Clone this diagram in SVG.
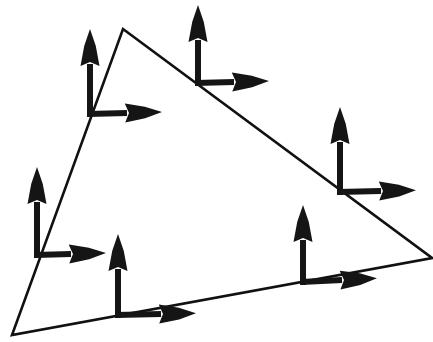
<svg xmlns="http://www.w3.org/2000/svg" width="433" height="342" viewBox="0 0 433 342">
<style>
.edge{fill:none;stroke:#111;stroke-width:2.6;stroke-linejoin:miter}
.ax{stroke:#151515;stroke-width:6;fill:none;marker-end:url(#head)}
</style>
<defs>
<marker id="head" markerUnits="userSpaceOnUse" markerWidth="38" markerHeight="20" refX="2" refY="10" orient="auto" viewBox="0 0 38 20">
<path d="M0,0.5 L20,4.2 L37,10 L20,15.8 L0,19.5 L4,10 z" fill="#151515"/>
</marker>
</defs>
<rect width="433" height="342" fill="#fff"/>
<g id="connectors">
<path class="edge" d="M123,29 L432,258 L12,335 Z"/>
</g>
<g id="frameA"><line class="ax" x1="90" y1="117" x2="90" y2="64"/><line class="ax" x1="88" y1="114" x2="127" y2="113"/></g>
<g id="frameB"><line class="ax" x1="198" y1="86" x2="198" y2="40"/><line class="ax" x1="196" y1="83" x2="234" y2="82"/></g>
<g id="frameC"><line class="ax" x1="340" y1="195" x2="340" y2="142"/><line class="ax" x1="338" y1="192" x2="381" y2="191"/></g>
<g id="frameD"><line class="ax" x1="37" y1="258" x2="37" y2="202"/><line class="ax" x1="35" y1="255" x2="71" y2="254"/></g>
<g id="frameE"><line class="ax" x1="118" y1="318" x2="118" y2="269"/><line class="ax" x1="116" y1="315" x2="161" y2="314"/></g>
<g id="frameF"><line class="ax" x1="303" y1="285" x2="303" y2="240"/><line class="ax" x1="301" y1="282" x2="342" y2="280"/></g>
</svg>
